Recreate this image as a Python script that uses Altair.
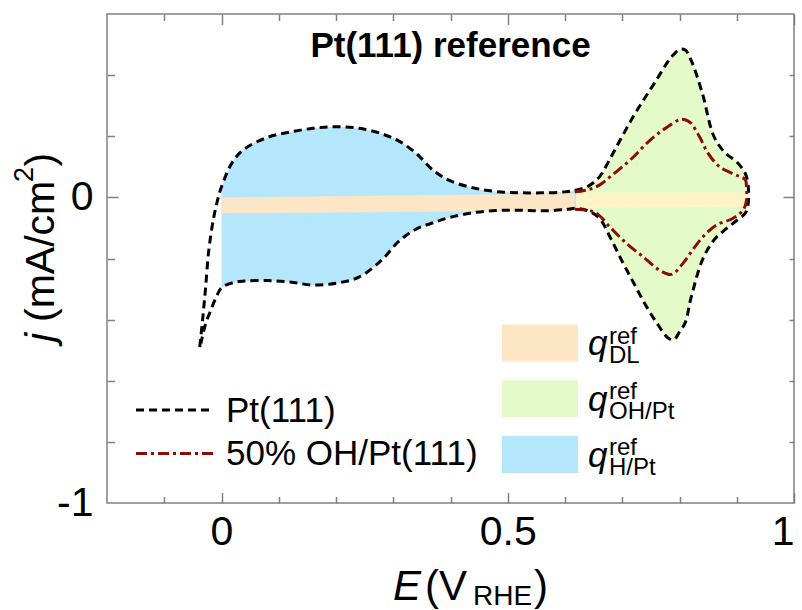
import altair as alt
import pandas as pd

# plot-area size in pixels
W, H = 687, 489
FONT = "Liberation Sans"
GRAY = "#808080"

# ---- Pt(111) voltammogram -------------------------------------------------
# shared potential grid (V vs RHE) for the anodic / cathodic branches
E_grid = [0.0, 0.02, 0.04, 0.08, 0.12, 0.16, 0.20, 0.24, 0.28, 0.31, 0.34,
          0.37, 0.40, 0.44, 0.48, 0.52, 0.56, 0.60, 0.62, 0.64, 0.66, 0.68,
          0.70, 0.72, 0.74, 0.76, 0.78, 0.79, 0.80, 0.81, 0.82, 0.84, 0.86,
          0.88, 0.90, 0.917]
j_anodic = [0.035, 0.118, 0.158, 0.196, 0.214, 0.226, 0.231, 0.226, 0.208,
            0.184, 0.144, 0.088, 0.054, 0.031, 0.019, 0.015, 0.015, 0.018,
            0.024, 0.036, 0.067, 0.131, 0.200, 0.267, 0.327, 0.385, 0.445,
            0.468, 0.484, 0.482, 0.450, 0.340, 0.200, 0.145, 0.116, 0.068]
j_cathodic = [-0.296, -0.279, -0.274, -0.272, -0.277, -0.287, -0.281,
              -0.261, -0.205, -0.143, -0.104, -0.083, -0.065, -0.050,
              -0.043, -0.042, -0.044, -0.040, -0.036, -0.044, -0.068,
              -0.135, -0.210, -0.280, -0.350, -0.410, -0.460, -0.466,
              -0.440, -0.410, -0.330, -0.205, -0.140, -0.105, -0.075, -0.045]
# hydrogen-evolution onset below 0 V
E_tail_start = [-0.038, -0.033, -0.028, -0.022, -0.014, -0.007]
j_tail_start = [-0.490, -0.400, -0.300, -0.170, -0.070, -0.010]
E_tail_end = [-0.010, -0.020, -0.028, -0.036]
j_tail_end = [-0.330, -0.375, -0.415, -0.478]

# ---- 50 % OH/Pt(111) -----------------------------------------------------
E_oh = [0.617, 0.64, 0.66, 0.68, 0.70, 0.72, 0.74, 0.76, 0.78, 0.80, 0.81,
        0.82, 0.835, 0.85, 0.87, 0.89, 0.905, 0.915, 0.917,
        0.917, 0.911, 0.893, 0.864, 0.841, 0.823, 0.806, 0.786, 0.765,
        0.736, 0.707, 0.678, 0.655, 0.637, 0.617]
j_oh = [0.018, 0.025, 0.040, 0.069, 0.100, 0.133, 0.172, 0.205, 0.232,
        0.254, 0.254, 0.243, 0.198, 0.144, 0.100, 0.080, 0.068, 0.058, 0.030,
        -0.010, -0.042, -0.069, -0.091, -0.129, -0.172, -0.216, -0.252,
        -0.238, -0.194, -0.150, -0.096, -0.052, -0.042, -0.039]

# ---- double-layer bands ---------------------------------------------------
E_dl = [0.0, 0.617]
j_dl_top = [0.0, 0.013]
j_dl_bot = [-0.052, -0.044]
E_dl_oh = [0.620, 0.917]
j_dl_oh_top = [0.016, 0.017]
j_dl_oh_bot = [-0.033, -0.031]

# axis ticks
x_minor = [-0.1, 0.1, 0.2, 0.3, 0.4, 0.6, 0.7, 0.8, 0.9]
x_major = [0, 0.5, 1]
y_minor = [-0.8, -0.6, -0.4, -0.2, 0.2, 0.4]
y_major = [0]
y_labels = [-1, 0]

C_H = "#B4E6FC"
C_OH = "#E4FBC9"
C_DL = "#FDE6C6"
C_DL_OH = "#FFF4C6"
C_RED = "#8B0A0A"

# ---------------------------------------------------------------------------
grid = pd.DataFrame({"E": E_grid, "up": j_anodic, "dn": j_cathodic})
h_region = grid[grid.E <= 0.62]
oh_region = grid[grid.E >= 0.62]

loop = pd.DataFrame({
    "E": E_tail_start + E_grid + E_grid[::-1] + E_tail_end,
    "j": j_tail_start + j_anodic + j_cathodic[::-1] + j_tail_end,
})
loop["k"] = range(len(loop))

oh = pd.DataFrame({"E": E_oh, "j": j_oh})
oh["k"] = range(len(oh))

dl = pd.DataFrame({"E": E_dl, "top": j_dl_top, "bot": j_dl_bot})
dl_oh = pd.DataFrame({"E": E_dl_oh, "top": j_dl_oh_top, "bot": j_dl_oh_bot})

xs = alt.Scale(domain=[-0.2, 1.0], nice=False, zero=False)
ys = alt.Scale(domain=[-1.0, 0.6], nice=False, zero=False)


def tick_axis(orient, values, size, offset):
    return alt.Axis(orient=orient, values=values, tickSize=size, offset=offset,
                    labels=False, domain=False, grid=False, title=None,
                    tickColor=GRAY, tickWidth=1.5)


label_x = alt.Axis(orient="bottom", values=x_major, labelExpr="format(datum.value, '~g')",
                   ticks=False, domain=False, grid=False, title=None,
                   labelFont=FONT, labelFontSize=41, labelColor="black", labelPadding=9)
label_y = alt.Axis(orient="left", values=y_labels,
                   labelExpr="datum.value < 0 ? '-' + format(-datum.value, '~g') : format(datum.value, '~g')",
                   ticks=False, domain=False, grid=False, title=None,
                   labelFont=FONT, labelFontSize=41, labelColor="black", labelPadding=14)

h_fill = alt.Chart(h_region).mark_area(color=C_H, interpolate="monotone").encode(
    x=alt.X("E:Q", scale=xs, axis=label_x),
    y=alt.Y("up:Q", scale=ys, axis=label_y),
    y2="dn:Q",
)
oh_fill = alt.Chart(oh_region).mark_area(color=C_OH, interpolate="monotone").encode(
    x=alt.X("E:Q", scale=xs, axis=tick_axis("top", x_minor, 6.5, -H)),
    y=alt.Y("up:Q", scale=ys, axis=tick_axis("right", y_minor, 7.5, -W)),
    y2="dn:Q",
)
dl_band = alt.Chart(dl).mark_area(color=C_DL).encode(
    x=alt.X("E:Q", scale=xs, axis=tick_axis("top", x_major, 10.5, -H)),
    y=alt.Y("top:Q", scale=ys, axis=tick_axis("right", y_major, 11, -W)),
    y2="bot:Q",
)
dl_oh_band = alt.Chart(dl_oh).mark_area(color=C_DL_OH).encode(
    x=alt.X("E:Q", scale=xs, axis=tick_axis("bottom", x_minor, 6.5, -H)),
    y=alt.Y("top:Q", scale=ys, axis=tick_axis("left", y_minor, 5, -W)),
    y2="bot:Q",
)
pt_line = alt.Chart(loop).mark_line(
    color="black", strokeWidth=3, strokeDash=[8, 5], interpolate="catmull-rom"
).encode(
    x=alt.X("E:Q", scale=xs, axis=tick_axis("bottom", x_major, 10.5, -H)),
    y=alt.Y("j:Q", scale=ys, axis=tick_axis("left", y_major, 11, -W)),
    order="k:Q",
)
oh_line = alt.Chart(oh).mark_line(
    color=C_RED, strokeWidth=3, strokeDash=[11, 4, 3, 4], interpolate="catmull-rom"
).encode(
    x=alt.X("E:Q", scale=xs, axis=None),
    y=alt.Y("j:Q", scale=ys, axis=None),
    order="k:Q",
)

one = pd.DataFrame({"a": [0]})


def text(s, x, y, size, style="normal", weight="normal", angle=0, align="left"):
    return alt.Chart(one).mark_text(
        text=s, font=FONT, fontSize=size, fontStyle=style, fontWeight=weight,
        angle=angle, align=align, baseline="alphabetic", color="black"
    ).encode(x=alt.value(x), y=alt.value(y))


def swatch(color, yc):
    return alt.Chart(one).mark_rect(color=color).encode(
        x=alt.value(395), x2=alt.value(471), y=alt.value(yc - 18.5), y2=alt.value(yc + 18.5))


def sample(color, dash, yc):
    return alt.Chart(one).mark_rule(color=color, strokeWidth=3, strokeDash=dash).encode(
        x=alt.value(29), x2=alt.value(106), y=alt.value(yc))


labels = [
    text("Pt(111) reference", 343.5, 43, 35, weight="bold", align="center"),
    # x-axis title: E (V_RHE)
    text("E", 286, 586, 42, style="italic"),
    text("(V", 318, 586, 42),
    text("RHE", 366, 591, 28),
    text(")", 427, 586, 42),
    # y-axis title: j (mA/cm^2)
    text("j", -53, 328, 41, style="italic", angle=270),
    text("(mA/cm", -53, 308, 41, angle=270),
    text("2", -74, 168, 27, angle=270),
    text(")", -53, 152.5, 41, angle=270),
    # line legend
    sample("black", [8, 5], 396),
    sample(C_RED, [11, 4, 3, 4], 439.5),
    text("Pt(111)", 119, 408, 35),
    text("50% OH/Pt(111)", 119, 451, 35),
]

for color, sub, yc in [(C_DL, "DL", 329), (C_OH, "OH/Pt", 384.7), (C_H, "H/Pt", 440.5)]:
    labels += [
        swatch(color, yc),
        text("q", 481, yc + 12, 35, style="italic"),
        text("ref", 502, yc + 0.5, 24),
        text(sub, 502, yc + 20, 24),
    ]

chart = alt.layer(
    h_fill, oh_fill, dl_band, dl_oh_band, pt_line, oh_line, *labels
).resolve_axis(
    x="independent", y="independent"
).properties(
    width=W, height=H,
    padding={"left": 107, "top": 14, "right": 8, "bottom": 107},
    autosize=alt.AutoSizeParams(type="none"),
).configure_view(
    stroke=GRAY, strokeWidth=1.5
)

chart.save("out.html", embed_options={"renderer": "svg", "actions": False})
